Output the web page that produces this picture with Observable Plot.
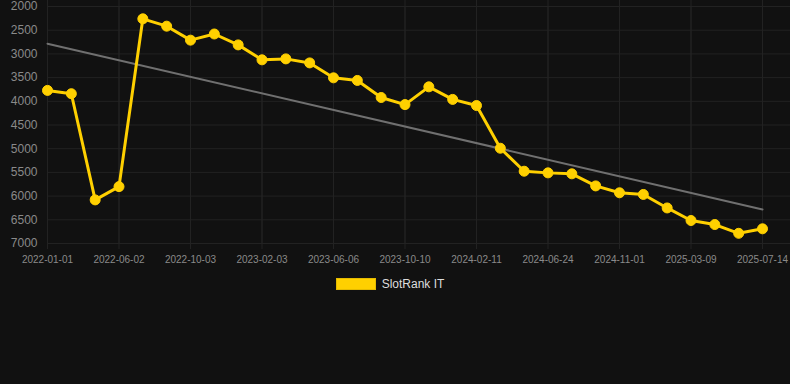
<!DOCTYPE html>
<html>
<head>
<meta charset="utf-8">
<script src="https://cdn.jsdelivr.net/npm/d3@7"></script>
<script src="https://cdn.jsdelivr.net/npm/@observablehq/plot@0.6"></script>
<style>
  html, body { margin: 0; padding: 0; background: #111111; }
  body { width: 790px; height: 384px; overflow: hidden; font-family: Arial, "Liberation Sans", sans-serif; }
  #chart svg { display: block; }
  #legend { display: flex; justify-content: center; align-items: center; margin-top: 5px; margin-left: -10px; }
  #legend .box { width: 38px; height: 10px; background: #FFD000; border: 1px solid #E5BB00; margin-right: 6px; }
  #legend .label { color: #dddddd; font-size: 12px; }
</style>
</head>
<body>
<div id="chart"></div>
<div id="legend"><span class="box"></span><span class="label">SlotRank IT</span></div>
<script>
const seriesName = "SlotRank IT";
const tickLabels = ["2022-01-01","2022-06-02","2022-10-03","2023-02-03","2023-06-06","2023-10-10","2024-02-11","2024-06-24","2024-11-01","2025-03-09","2025-07-14"];
const tickEvery = 3;
const ranks = [3770,3840,6080,5800,2260,2415,2710,2580,2810,3125,3105,3190,3505,3560,3920,4070,3695,3960,4090,4990,5475,5510,5530,5785,5930,5965,6250,6515,6600,6785,6690];
const yTicks = [2000,2500,3000,3500,4000,4500,5000,5500,6000,6500,7000];

const data = ranks.map((v, i) => ({i, v}));
const xTicks = tickLabels.map((_, k) => k * tickEvery);

const chart = Plot.plot({
  width: 790,
  height: 272,
  marginLeft: 47,
  marginRight: 0,
  marginTop: 6,
  marginBottom: 29,
  style: {background: "#111111", color: "#888888", fontFamily: "Arial, 'Liberation Sans', sans-serif", overflow: "visible"},
  x: {domain: [0, ranks.length - 1], range: [47, 762], axis: null},
  y: {domain: [2000, 7000], range: [6, 243], axis: null},
  marks: [
    Plot.ruleY(yTicks, {y: d => d, stroke: "#222222", strokeWidth: 1}),
    Plot.ruleX(xTicks, {x: d => d, y1: 2000, y2: 7000, stroke: "#222222", strokeWidth: 1}),
    Plot.ruleX(xTicks, {x: d => d, y: 7000, stroke: "#222222", strokeWidth: 1, insetBottom: -6}),
    Plot.text(yTicks, {x: 0, y: d => d, text: d => String(d), textAnchor: "end", dx: -10, fontSize: 12, fill: "#8a8a8a"}),
    Plot.text(xTicks, {x: d => d, y: 7000, text: (d, k) => tickLabels[k], dy: 16, fontSize: 10, fill: "#8a8a8a"}),
    Plot.linearRegressionY(data, {x: "i", y: "v", stroke: "#707070", strokeWidth: 2, ci: 0}),
    Plot.line(data, {x: "i", y: "v", stroke: "#FFD000", strokeWidth: 3}),
    Plot.dot(data, {x: "i", y: "v", r: 5, fill: "#FFD000", stroke: "#FFD000", strokeWidth: 1})
  ]
});
document.getElementById("chart").appendChild(chart);
</script>
</body>
</html>
